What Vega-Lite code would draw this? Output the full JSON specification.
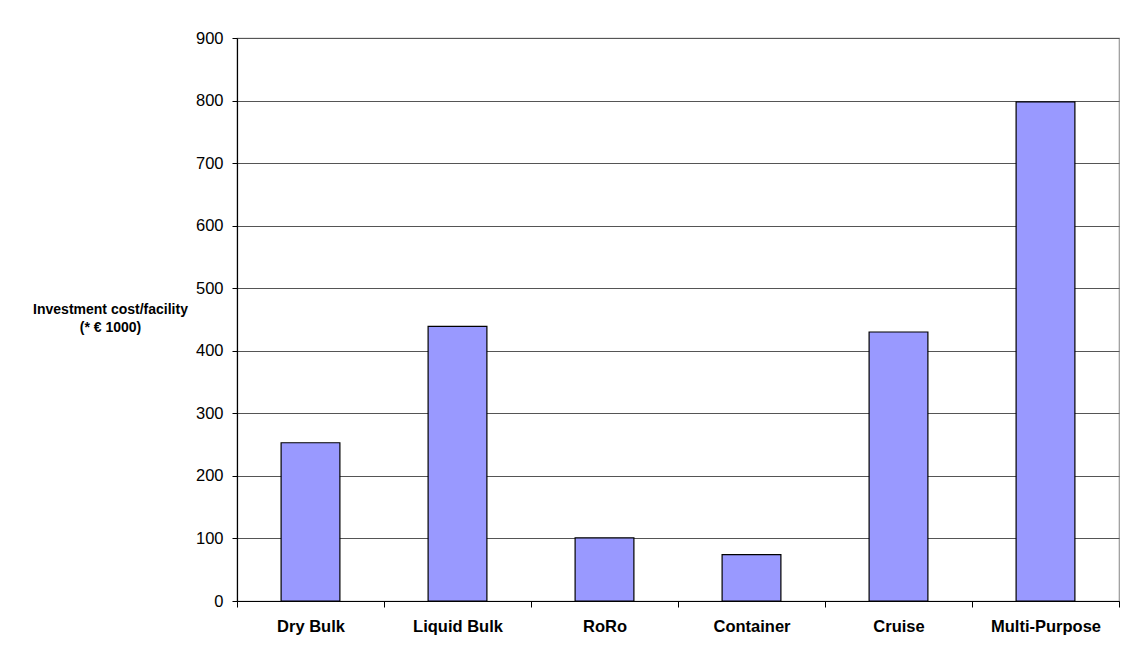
{
  "$schema": "https://vega.github.io/schema/vega-lite/v6.json",
  "width": 882,
  "height": 563,
  "autosize": {"type": "none"},
  "padding": {"left": 237, "top": 38, "right": 16, "bottom": 56},
  "background": "white",
  "data": {
    "values": [
      {"facility": "Dry Bulk", "cost": 253},
      {"facility": "Liquid Bulk", "cost": 439},
      {"facility": "RoRo", "cost": 101},
      {"facility": "Container", "cost": 74},
      {"facility": "Cruise", "cost": 430},
      {"facility": "Multi-Purpose", "cost": 798}
    ]
  },
  "mark": {"type": "bar", "fill": "#9999FF", "stroke": "#000000", "strokeWidth": 1.2, "width": {"band": 0.4}},
  "encoding": {
    "x": {
      "field": "facility",
      "type": "nominal",
      "sort": null,
      "scale": {"paddingInner": 0, "paddingOuter": 0},
      "axis": {
        "title": null,
        "labelAngle": 0,
        "labelFont": "Liberation Sans",
        "labelFontSize": 16.5,
        "labelFontWeight": "bold",
        "labelColor": "#000000",
        "labelPadding": 11,
        "tickBand": "extent",
        "tickSize": 6,
        "tickColor": "#000000",
        "domainColor": "#000000",
        "domainWidth": 1.2,
        "grid": false
      }
    },
    "y": {
      "field": "cost",
      "type": "quantitative",
      "scale": {"domain": [0, 900], "nice": false},
      "axis": {
        "values": [0, 100, 200, 300, 400, 500, 600, 700, 800, 900],
        "title": ["Investment cost/facility", "(* € 1000)"],
        "titleAngle": 0,
        "titleAlign": "center",
        "titleBaseline": "middle",
        "titleX": -127,
        "titleY": 271,
        "titleFont": "Liberation Sans",
        "titleFontSize": 14,
        "titleFontWeight": "bold",
        "titleColor": "#000000",
        "titleLineHeight": 18,
        "labelFont": "Liberation Sans",
        "labelFontSize": 16.5,
        "labelColor": "#000000",
        "labelPadding": 9,
        "tickSize": 5,
        "tickColor": "#000000",
        "domainColor": "#000000",
        "domainWidth": 1.2,
        "grid": true,
        "gridColor": "#555555",
        "gridWidth": 1
      }
    }
  },
  "config": {
    "view": {"stroke": "#999999", "strokeWidth": 1.2}
  }
}
